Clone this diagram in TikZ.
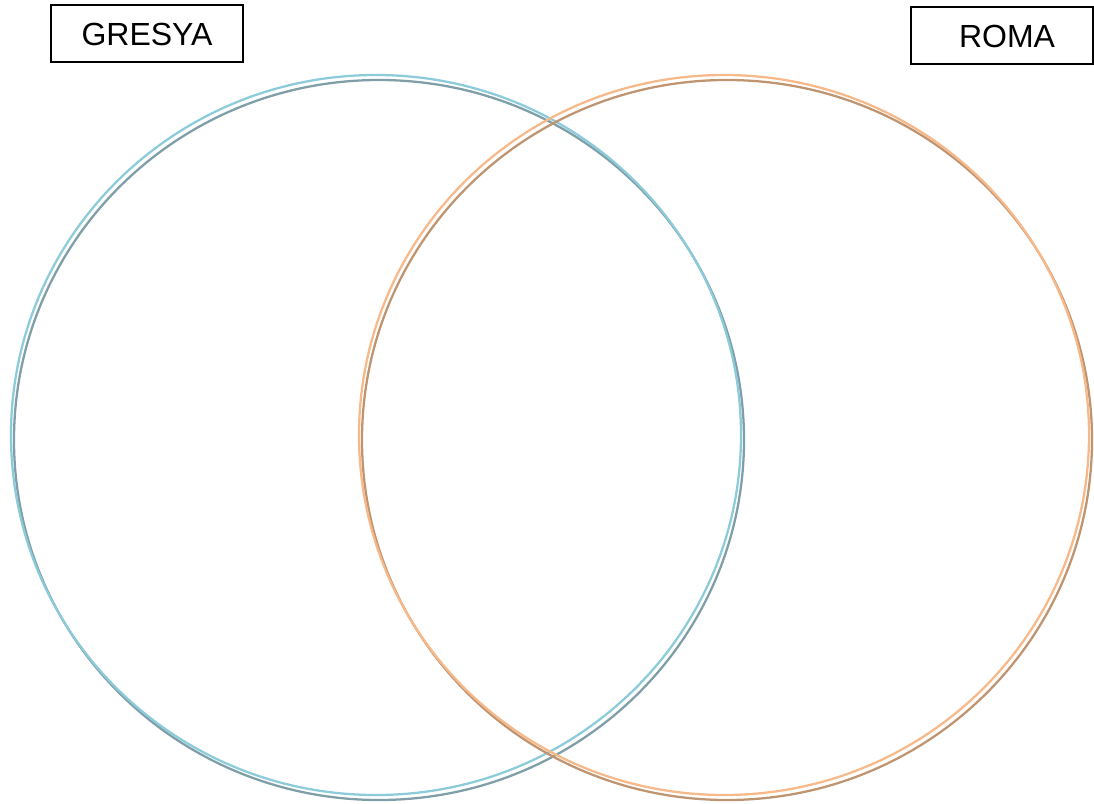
\documentclass[tikz,border=0pt]{standalone}
\usepackage{fontspec}
\setmainfont{Liberation Sans}
\definecolor{blueL}{HTML}{8CCBDA}
\definecolor{blueD}{HTML}{7F9EA7}
\definecolor{orL}{HTML}{F7B98A}
\definecolor{orD}{HTML}{BF9470}
\begin{document}
\begin{tikzpicture}[x=0.75pt,y=-0.75pt,
  ring/.style={line width=1.7pt},
  box/.style={draw=black,line width=1.5pt,inner sep=0pt,minimum height=42.75pt},
  txt/.style={font=\fontsize{24}{28}\selectfont,inner sep=0pt}]
\useasboundingbox (0,0) rectangle (1094,803);
% left (Gresya)
\draw[ring,blueD] (379,440) ellipse [x radius=365, y radius=360];
\draw[ring,blueL] (376,435) ellipse [x radius=365, y radius=360];
% right (Roma)
\draw[ring,orD] (727,440) ellipse [x radius=365, y radius=360];
\draw[ring,orL] (724,435) ellipse [x radius=365, y radius=360];
\node[box,minimum width=144pt] (gresyabox) at (147,33.5) {};
\node[txt] (gresya) at (147,34) {GRESYA};
\node[box,minimum width=136.5pt] (romabox) at (1002,35.5) {};
\node[txt] (roma) at (1007,36) {ROMA};
\end{tikzpicture}
\end{document}
